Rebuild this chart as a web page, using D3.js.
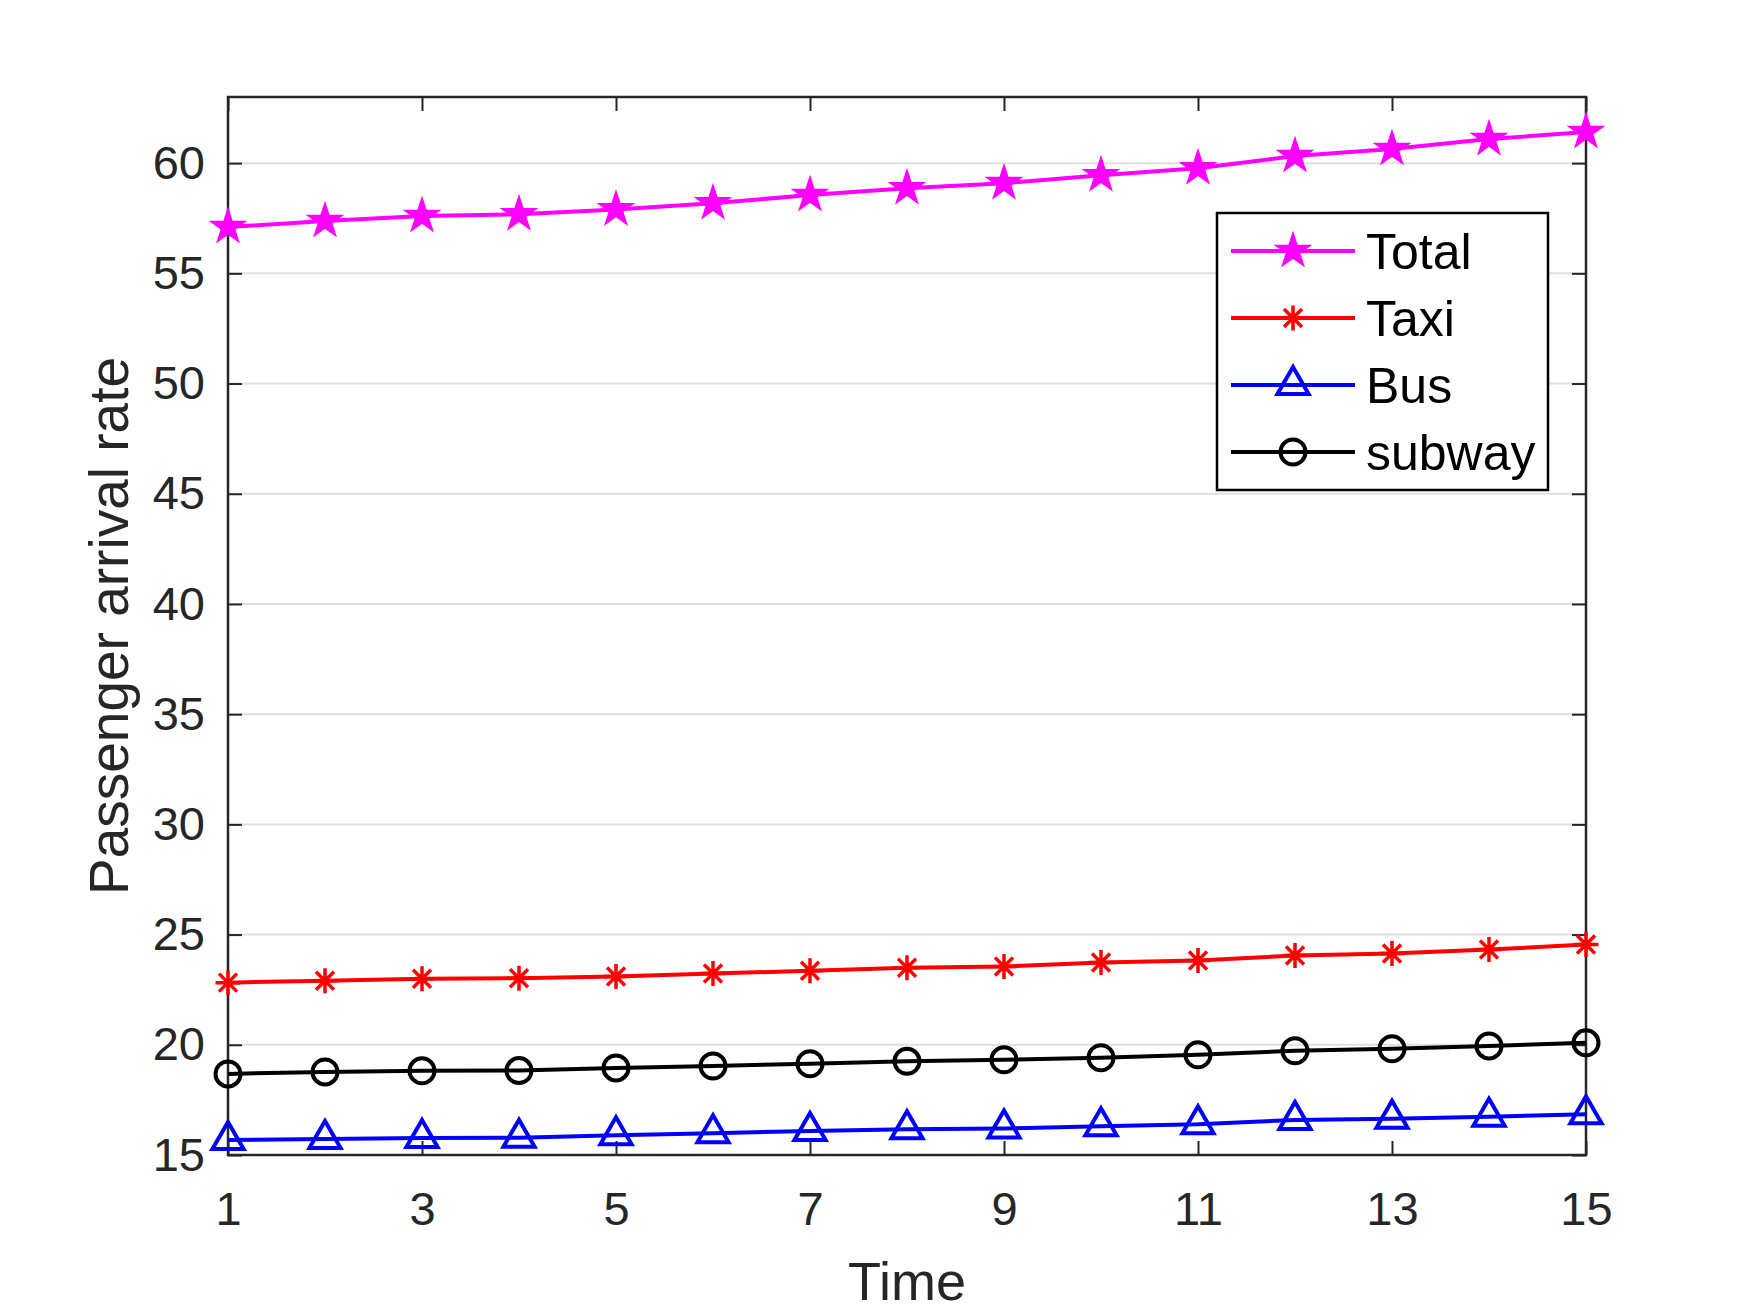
<!DOCTYPE html>
<html>
<head>
<meta charset="utf-8">
<script src="https://cdn.jsdelivr.net/npm/d3@7"></script>
<style>
	body { margin: 0; background: #ffffff; }
	svg text { font-family: "Liberation Sans", Arial, Helvetica, sans-serif; }
</style>
</head>
<body>
<div id="chart"></div>
<script>

///////////////////////////////////////////////////////////////////////////
///////////////////////////////// Data ////////////////////////////////////
///////////////////////////////////////////////////////////////////////////

var timeSteps = [1, 2, 3, 4, 5, 6, 7, 8, 9, 10, 11, 12, 13, 14, 15];
var totalRate = [57.10, 57.37, 57.60, 57.68, 57.90, 58.18, 58.55, 58.86, 59.09, 59.45, 59.77, 60.32, 60.64, 61.09, 61.41];
var taxiRate = [22.82, 22.91, 23.00, 23.02, 23.10, 23.23, 23.36, 23.50, 23.55, 23.73, 23.82, 24.05, 24.14, 24.32, 24.55];
var busRate = [15.68, 15.73, 15.77, 15.78, 15.90, 15.99, 16.09, 16.17, 16.20, 16.30, 16.39, 16.59, 16.64, 16.74, 16.85];
var subwayRate = [18.68, 18.77, 18.82, 18.83, 18.95, 19.04, 19.14, 19.25, 19.32, 19.41, 19.55, 19.73, 19.82, 19.95, 20.09];

var seriesNames = ["Total", "Taxi", "Bus", "subway"];
var xTickValues = [1, 3, 5, 7, 9, 11, 13, 15];
var yTickValues = [15, 20, 25, 30, 35, 40, 45, 50, 55, 60];

var series = [
	{ name: seriesNames[0], values: totalRate, color: "#ff00ff", marker: "star" },
	{ name: seriesNames[1], values: taxiRate, color: "#ff0000", marker: "asterisk" },
	{ name: seriesNames[2], values: busRate, color: "#0000ff", marker: "triangle" },
	{ name: seriesNames[3], values: subwayRate, color: "#000000", marker: "circle" }
];

///////////////////////////////////////////////////////////////////////////
//////////////////// Set up and initiate svg container ////////////////////
///////////////////////////////////////////////////////////////////////////

var totalWidth = 1750,
	totalHeight = 1312;
var margin = { top: 97, right: 164, bottom: 157, left: 228 };
var width = totalWidth - margin.left - margin.right;
var height = totalHeight - margin.top - margin.bottom;
var axisColor = "#262626";

var svgRoot = d3.select("#chart").append("svg")
	.attr("width", totalWidth)
	.attr("height", totalHeight);

svgRoot.append("rect")
	.attr("width", totalWidth)
	.attr("height", totalHeight)
	.style("fill", "#ffffff");

var svg = svgRoot.append("g")
	.attr("transform", "translate(" + margin.left + "," + margin.top + ")");

var x = d3.scaleLinear().domain([1, 15]).range([0, width]);
var y = d3.scaleLinear().domain([15, 63]).range([height, 0]);

///////////////////////////////////////////////////////////////////////////
//////////////////////////// Grid and axes ////////////////////////////////
///////////////////////////////////////////////////////////////////////////

//Horizontal grid lines
svg.append("g").selectAll(".grid")
	.data(yTickValues)
	.enter().append("line")
	.attr("x1", 0)
	.attr("x2", width)
	.attr("y1", function(d) { return y(d); })
	.attr("y2", function(d) { return y(d); })
	.style("stroke", "#dfdfdf")
	.style("stroke-width", 2);

function styleAxis(g) {
	g.select(".domain").remove();
	g.selectAll(".tick line").style("stroke", axisColor).style("stroke-width", 2);
	g.selectAll(".tick text")
		.style("fill", axisColor)
		.style("font-size", "47px")
		.attr("font-family", null);
}

svg.append("g")
	.attr("transform", "translate(0," + height + ")")
	.call(d3.axisBottom(x).tickValues(xTickValues).tickSize(-14).tickPadding(37))
	.call(styleAxis);

svg.append("g")
	.call(d3.axisTop(x).tickValues(xTickValues).tickSize(-14).tickFormat(""))
	.call(styleAxis);

svg.append("g")
	.call(d3.axisLeft(y).tickValues(yTickValues).tickSize(-14).tickPadding(23))
	.call(styleAxis);

svg.append("g")
	.attr("transform", "translate(" + width + ",0)")
	.call(d3.axisRight(y).tickValues(yTickValues).tickSize(-14).tickFormat(""))
	.call(styleAxis);

//Box round the plot
svg.append("rect")
	.attr("width", width)
	.attr("height", height)
	.style("fill", "none")
	.style("stroke", axisColor)
	.style("stroke-width", 2.5);

//Axis titles
svgRoot.append("text")
	.attr("x", margin.left + width / 2)
	.attr("y", 1300)
	.attr("text-anchor", "middle")
	.style("font-size", "54px")
	.style("fill", axisColor)
	.text("Time");

svgRoot.append("text")
	.attr("transform", "translate(128," + (margin.top + height / 2) + ") rotate(-90)")
	.attr("text-anchor", "middle")
	.style("font-size", "55px")
	.style("fill", axisColor)
	.text("Passenger arrival rate");

///////////////////////////////////////////////////////////////////////////
/////////////////////////////// Markers ///////////////////////////////////
///////////////////////////////////////////////////////////////////////////

function starPath(R) {
	var r = R * 0.382, p = [];
	for (var i = 0; i < 10; i++) {
		var rad = i % 2 === 0 ? R : r;
		var a = -Math.PI / 2 + i * Math.PI / 5;
		p.push([rad * Math.cos(a), rad * Math.sin(a)]);
	}
	return "M" + p.join("L") + "Z";
}

function drawMarker(g, type, color) {
	if (type === "star") {
		g.append("path").attr("d", starPath(18))
			.style("fill", color).style("stroke", color).style("stroke-width", 1.5);
	} else if (type === "asterisk") {
		var a = 12.5, b = 9;
		g.append("path")
			.attr("d", "M0," + (-a) + "L0," + a + "M" + (-a) + ",0L" + a + ",0" +
				"M" + (-b) + "," + (-b) + "L" + b + "," + b + "M" + (-b) + "," + b + "L" + b + "," + (-b))
			.style("fill", "none").style("stroke", color).style("stroke-width", 3.5);
	} else if (type === "triangle") {
		g.append("path").attr("d", "M0,-18L15.6,9L-15.6,9Z")
			.style("fill", "none").style("stroke", color).style("stroke-width", 4);
	} else {
		g.append("circle").attr("r", 12.5)
			.style("fill", "none").style("stroke", color).style("stroke-width", 4);
	}
}

///////////////////////////////////////////////////////////////////////////
//////////////////////////////// Lines ////////////////////////////////////
///////////////////////////////////////////////////////////////////////////

var line = d3.line()
	.x(function(d, i) { return x(timeSteps[i]); })
	.y(function(d) { return y(d); });

series.forEach(function(s) {
	svg.append("path")
		.datum(s.values)
		.attr("d", line)
		.style("fill", "none")
		.style("stroke", s.color)
		.style("stroke-width", 4);

	svg.append("g").selectAll(".marker")
		.data(s.values)
		.enter().append("g")
		.attr("transform", function(d, i) { return "translate(" + x(timeSteps[i]) + "," + y(d) + ")"; })
		.each(function() { drawMarker(d3.select(this), s.marker, s.color); });
});

///////////////////////////////////////////////////////////////////////////
/////////////////////////////// Legend ////////////////////////////////////
///////////////////////////////////////////////////////////////////////////

var legend = svgRoot.append("g").attr("transform", "translate(1217,213)");

legend.append("rect")
	.attr("width", 331)
	.attr("height", 277)
	.style("fill", "#ffffff")
	.style("stroke", "#000000")
	.style("stroke-width", 2.5);

var legendRow = legend.selectAll(".legendRow")
	.data(series)
	.enter().append("g")
	.attr("transform", function(d, i) { return "translate(0," + (38 + i * 67) + ")"; });

legendRow.append("line")
	.attr("x1", 14)
	.attr("x2", 138)
	.style("stroke", function(d) { return d.color; })
	.style("stroke-width", 4);

legendRow.append("g")
	.attr("transform", "translate(76,0)")
	.each(function(d) { drawMarker(d3.select(this), d.marker, d.color); });

legendRow.append("text")
	.attr("x", 149)
	.attr("dy", "0.36em")
	.style("font-size", "50px")
	.style("fill", "#000000")
	.text(function(d) { return d.name; });

</script>
</body>
</html>
